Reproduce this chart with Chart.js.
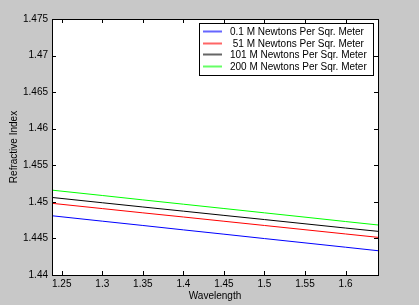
<!DOCTYPE html>
<html>
<head>
<meta charset="utf-8">
<script src="https://cdn.jsdelivr.net/npm/chart.js@4/dist/chart.umd.min.js"></script>
<style>
  html, body { margin: 0; padding: 0; background: #c8c8c8; }
  #wrap { width: 419px; height: 305px; }
</style>
</head>
<body>
<div id="wrap"><canvas id="c" width="419" height="305"></canvas></div>
<script>
const wavelength = [1.238, 1.30, 1.35, 1.40, 1.45, 1.50, 1.55, 1.60, 1.64];
const n01  = [1.44810, 1.44736, 1.44677, 1.44617, 1.44558, 1.44498, 1.44439, 1.44380, 1.44332];
const n51  = [1.44980, 1.44908, 1.44850, 1.44793, 1.44735, 1.44677, 1.44619, 1.44561, 1.44515];
const n101 = [1.45060, 1.44988, 1.44930, 1.44873, 1.44815, 1.44758, 1.44700, 1.44642, 1.44597];
const n200 = [1.45160, 1.45087, 1.45027, 1.44968, 1.44909, 1.44850, 1.44791, 1.44731, 1.44684];
const seriesLabels = ['0.1 M Newtons Per Sqr. Meter', ' 51 M Newtons Per Sqr. Meter', '101 M Newtons Per Sqr. Meter', '200 M Newtons Per Sqr. Meter'];
const xTicks = [1.25, 1.3, 1.35, 1.4, 1.45, 1.5, 1.55, 1.6];
const yTicks = [1.44, 1.445, 1.45, 1.455, 1.46, 1.465, 1.47, 1.475];

const colors = ['#0000ff', '#ff0000', '#000000', '#00ff00'];
const FONT = '"Liberation Sans", Arial, sans-serif';

const pts = arr => arr.map((y, i) => ({ x: wavelength[i], y }));

// matlab style box, inward ticks and legend inside the axes
const matlabAxes = {
  id: 'matlabAxes',
  afterDatasetsDraw(chart) {
    const { ctx, chartArea: a, scales } = chart;
    ctx.save();
    ctx.strokeStyle = '#000';
    ctx.lineWidth = 1;
    ctx.strokeRect(Math.round(a.left) + 0.5, Math.round(a.top) + 0.5,
      Math.round(a.right - a.left), Math.round(a.bottom - a.top));
    ctx.beginPath();
    xTicks.forEach(v => {
      const x = Math.round(scales.x.getPixelForValue(v)) + 0.5;
      ctx.moveTo(x, a.bottom); ctx.lineTo(x, a.bottom - 4);
      ctx.moveTo(x, a.top); ctx.lineTo(x, a.top + 4);
    });
    yTicks.forEach(v => {
      const y = Math.round(scales.y.getPixelForValue(v)) + 0.5;
      ctx.moveTo(a.left, y); ctx.lineTo(a.left + 4, y);
      ctx.moveTo(a.right, y); ctx.lineTo(a.right - 4, y);
    });
    ctx.stroke();

    // legend
    const lx = 199, ly = 23, lw = 174, lh = 52;
    ctx.fillStyle = '#fff';
    ctx.fillRect(lx, ly, lw, lh);
    ctx.strokeStyle = '#000';
    ctx.strokeRect(lx + 0.5, ly + 0.5, lw, lh);
    ctx.font = '10px ' + FONT;
    ctx.textBaseline = 'middle';
    const rows = [31, 43, 54, 66];
    seriesLabels.forEach((label, i) => {
      ctx.globalAlpha = 0.6;
      ctx.fillStyle = colors[i];
      ctx.fillRect(203, rows[i] - 0.5, 19, 2);
      ctx.globalAlpha = 1;
      ctx.fillStyle = '#000';
      ctx.fillText(label, 230, rows[i] + 1);
    });
    ctx.restore();
  }
};

new Chart(document.getElementById('c'), {
  type: 'line',
  data: {
    datasets: [n01, n51, n101, n200].map((d, i) => ({
      label: seriesLabels[i],
      data: pts(d),
      borderColor: colors[i],
      borderWidth: 1,
      pointRadius: 0,
      tension: 0
    }))
  },
  options: {
    responsive: false,
    animation: false,
    layout: { padding: { top: 19, right: 41, left: 0, bottom: 0 } },
    plugins: { legend: { display: false }, tooltip: { enabled: false } },
    scales: {
      x: {
        type: 'linear',
        min: 1.238, max: 1.64,
        afterBuildTicks: s => { s.ticks = xTicks.map(v => ({ value: v })); },
        afterFit: s => { s.height = 30; },
        grid: { display: false, drawTicks: false, tickLength: 0 },
        border: { display: false },
        ticks: { color: '#000', font: { size: 10, family: FONT }, padding: 3, maxRotation: 0,
          callback: v => String(Number(v.toFixed(3))) },
        title: { display: true, text: 'Wavelength', color: '#000', font: { size: 10, family: FONT }, padding: { top: 0, bottom: 3 } }
      },
      y: {
        min: 1.44, max: 1.475,
        afterBuildTicks: s => { s.ticks = yTicks.map(v => ({ value: v })); },
        afterFit: s => { s.width = 52; },
        grid: { display: false, drawTicks: false, tickLength: 0 },
        border: { display: false },
        ticks: { color: '#000', font: { size: 10, family: FONT }, padding: 4,
          callback: v => String(Number(v.toFixed(3))) },
        title: { display: true, text: 'Refractive Index', color: '#000', font: { size: 10, family: FONT }, padding: { top: 8, bottom: 0 } }
      }
    }
  },
  plugins: [matlabAxes, {
    id: 'plotBg',
    beforeDraw(chart) {
      const { ctx, chartArea: a } = chart;
      ctx.save();
      ctx.fillStyle = '#c8c8c8';
      ctx.fillRect(0, 0, chart.width, chart.height);
      ctx.fillStyle = '#fff';
      ctx.fillRect(a.left, a.top, a.right - a.left, a.bottom - a.top);
      ctx.restore();
    }
  }]
});
</script>
</body>
</html>
